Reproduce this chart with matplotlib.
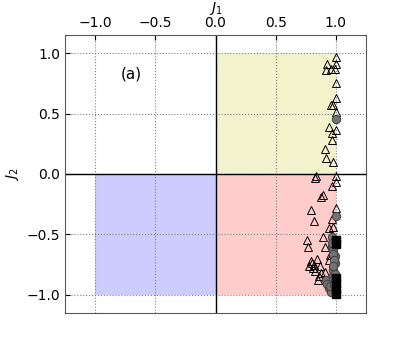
import numpy as np
import matplotlib
matplotlib.use('Agg')
import matplotlib.pyplot as plt
from matplotlib.patches import Rectangle

# open triangles
tri_x = [1.0, 0.93, 1.0, 0.92, 0.96, 0.99, 1.0, 1.0, 0.96, 0.98, 1.0, 0.945, 1.0,
         0.965, 0.965, 0.91, 0.92, 0.98, 0.835, 1.0,
         0.83, 1.0, 0.97, 0.895, 0.88, 0.79, 1.0, 0.82, 0.97, 0.945, 0.98,
         0.76, 0.77, 0.895, 0.91, 0.84, 0.80, 0.78, 0.81, 0.87, 0.88, 0.855,
         0.91, 0.94, 0.95, 0.79, 0.83, 0.82, 0.86]
tri_y = [0.97, 0.91, 0.91, 0.86, 0.87, 0.87, 0.75, 0.63, 0.57, 0.57, 0.515, 0.39, 0.36,
         0.335, 0.28, 0.21, 0.13, 0.10, -0.02, -0.02,
         -0.035, -0.07, -0.10, -0.17, -0.19, -0.30, -0.28, -0.385, -0.375, -0.45, -0.435,
         -0.55, -0.605, -0.52, -0.60, -0.70, -0.74, -0.765, -0.78, -0.765, -0.82, -0.875,
         -0.81, -0.71, -0.67, -0.72, -0.80, -0.75, -0.84]

# gray circles
circ_x = [1.0, 1.0, 0.965, 0.98, 0.99, 0.99, 0.98, 0.965, 0.95, 0.94, 0.98, 0.99,
          0.92, 0.97, 0.99, 0.96, 0.98, 0.985, 0.975, 0.98, 0.93, 0.95, 0.985, 0.97]
circ_y = [0.455, -0.35, -0.60, -0.63, -0.68, -0.74, -0.79, -0.85, -0.90, -0.945,
          -0.945, -0.97, -0.875, -0.52, -0.83, -0.98, -0.66, -0.71, -0.76, -0.88,
          -0.91, -0.93, -0.92, -0.57]

# black squares
sq_x = [1.0, 1.0, 1.0, 1.0, 1.0, 1.0]
sq_y = [-0.55, -0.58, -0.86, -0.90, -0.95, -0.99]

fig = plt.figure(figsize=(4.07, 3.49), dpi=100)
ax = fig.add_axes([0.16, 0.103, 0.739, 0.797])

ax.add_patch(Rectangle((0, 0), 1, 1, facecolor='y', alpha=0.2, edgecolor='none', zorder=0))
ax.add_patch(Rectangle((-1, -1), 1, 1, facecolor='b', alpha=0.2, edgecolor='none', zorder=0))
ax.add_patch(Rectangle((0, -1), 1, 1, facecolor='r', alpha=0.2, edgecolor='none', zorder=0))

ax.axhline(0, color='k', lw=1, zorder=1)
ax.axvline(0, color='k', lw=1, zorder=1)

ax.plot(tri_x, tri_y, '^', mfc='none', mec='k', ms=6, mew=0.7, zorder=3)
ax.plot(circ_x, circ_y, 'o', mfc='0.45', mec='0.25', ms=6, mew=0.7, zorder=4)
ax.plot(sq_x, sq_y, 's', mfc='k', mec='k', ms=6, zorder=5)

ax.text(-0.70, 0.83, '(a)', fontsize=11, ha='center', va='center')

ax.set_xlim(-1.25, 1.25)
ax.set_ylim(-1.15, 1.15)
ax.set_xticks([-1.0, -0.5, 0.0, 0.5, 1.0])
ax.set_yticks([-1.0, -0.5, 0.0, 0.5, 1.0])
ax.xaxis.tick_top()
ax.xaxis.set_label_position('top')
ax.tick_params(direction='in', labelsize=10, color='k')
ax.grid(True, linestyle=':', color='0.5', lw=0.8)
ax.set_axisbelow(True)
for s in ax.spines.values():
    s.set_color('0.35')
ax.set_xlabel('$J_1$', fontsize=10, labelpad=3)
ax.set_ylabel('$J_2$', fontsize=10, labelpad=4)

fig.savefig('out.png', dpi=100)
